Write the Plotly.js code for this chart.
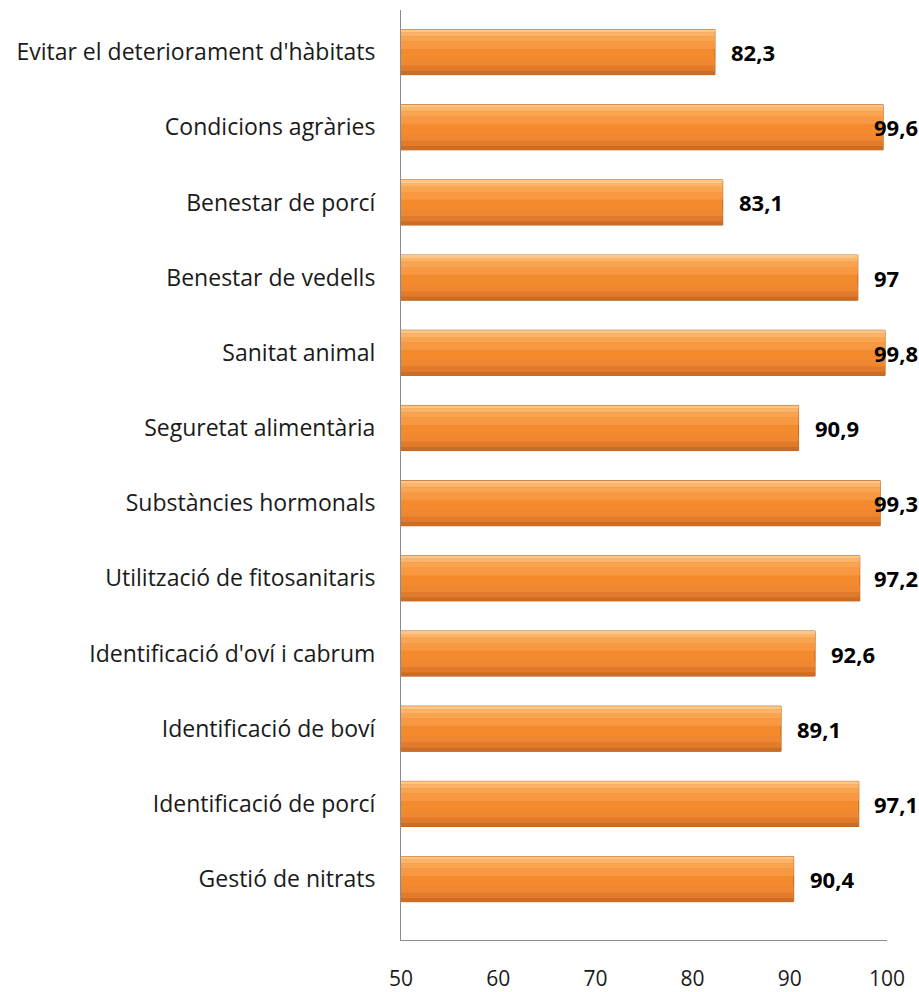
<!DOCTYPE html>
<html>
<head>
<meta charset="utf-8">
<script src="https://cdn.plot.ly/plotly-3.0.1.min.js"></script>
<style>html,body{margin:0;padding:0;background:#fff;}#chart{width:919px;height:992px;}</style>
</head>
<body>
<div id="chart"></div>
<script>
const categories = [
  "Evitar el deteriorament d'hàbitats",
  "Condicions agràries",
  "Benestar de porcí",
  "Benestar de vedells",
  "Sanitat animal",
  "Seguretat alimentària",
  "Substàncies hormonals",
  "Utilització de fitosanitaris",
  "Identificació d'oví i cabrum",
  "Identificació de boví",
  "Identificació de porcí",
  "Gestió de nitrats"
];
const values = [82.3, 99.6, 83.1, 97, 99.8, 90.9, 99.3, 97.2, 92.6, 89.1, 97.1, 90.4];
const xTicks = [50, 60, 70, 80, 90, 100];

const fmt = v => String(v).replace('.', ',');
const idx = categories.map((c, i) => i);

const common = {type: 'bar', orientation: 'h', y: idx, x: values, base: 0, hoverinfo: 'skip'};
const bands = [
  {w: 0.6, o: -0.3, c: '#F48A2E'},
  {w: 0.04, o: -0.3, c: '#FCC689'},
  {w: 0.05, o: -0.26, c: '#FBB468'},
  {w: 0.07, o: -0.21, c: '#F9A451'},
  {w: 0.1, o: -0.14, c: '#F89843'},
  {w: 0.08, o: 0.1, c: '#EE8632'},
  {w: 0.07, o: 0.18, c: '#E17A2B'},
  {w: 0.05, o: 0.25, c: '#CC6D25'}
];
const traces = bands.map((b, k) => Object.assign({}, common, {
  width: b.w, offset: b.o,
  marker: {color: b.c, line: k === 0 ? {color: '#B8611C', width: 1} : {width: 0}}
}));

// data labels
const pxPerUnit = 486 / 50;
const annotations = values.map((v, i) => {
  const t = fmt(v);
  const digits = t.replace(',', '').length;
  const estW = digits * 14 + (t.includes(',') ? 6 : 0);
  const left = 401 + (v - 50) * pxPerUnit + 16;
  const ann = {text: '<b>' + t + '</b>', y: i, yref: 'y', showarrow: false,
    font: {family: '"Open Sans", sans-serif', size: 22, color: '#000'}};
  if (left + estW > 917) {
    Object.assign(ann, {xref: 'paper', x: 1 + 33 / 486, xanchor: 'right'});
  } else {
    Object.assign(ann, {xref: 'x', x: v, xanchor: 'left', xshift: 14});
  }
  return ann;
});

const layout = {
  width: 919, height: 992,
  margin: {l: 401, r: 32, t: 10, b: 52, pad: 0},
  paper_bgcolor: '#fff', plot_bgcolor: '#fff',
  barmode: 'overlay',
  showlegend: false,
  font: {family: '"Open Sans", sans-serif', size: 20, color: '#1a1a1a'},
  xaxis: {range: [50, 100], tickvals: xTicks, ticktext: xTicks.map(String),
    showgrid: false, zeroline: false, showline: true, linecolor: '#8c8c8c', linewidth: 1,
    ticks: 'outside', ticklen: 20, tickcolor: 'rgba(0,0,0,0)',
    tickfont: {size: 21, color: '#1a1a1a'}},
  yaxis: {range: [11.81, -0.56], tickvals: idx, ticktext: categories,
    showgrid: false, zeroline: false, showline: true, linecolor: '#8c8c8c', linewidth: 1,
    ticks: 'outside', ticklen: 20, tickcolor: 'rgba(0,0,0,0)',
    tickfont: {size: 23, color: '#1a1a1a'}},
  annotations: annotations
};

Plotly.newPlot('chart', traces, layout, {displayModeBar: false, staticPlot: true});
</script>
</body>
</html>
